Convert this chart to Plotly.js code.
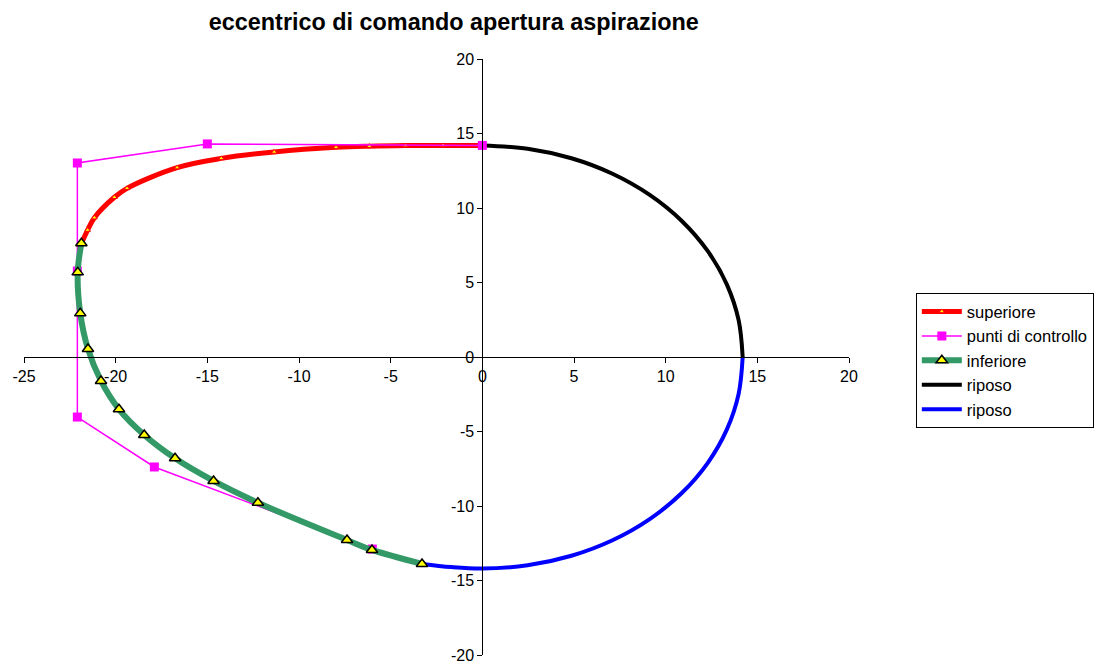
<!DOCTYPE html>
<html>
<head>
<meta charset="utf-8">
<script src="https://cdn.plot.ly/plotly-3.0.1.min.js"></script>
<style>html,body{margin:0;padding:0;background:#fff;}#chart{width:1097px;height:664px;}</style>
</head>
<body>
<div id="chart"></div>
<script>
// superiore (upper flank)
const supX = [0, -2.14, -4.2, -6.16, -7.98, -11.35, -14.24, -16.65, -19.38, -20.07, -21.16, -21.53, -21.87];
const supY = [14.2, 14.2, 14.19, 14.15, 14.07, 13.76, 13.33, 12.71, 11.32, 10.72, 9.35, 8.52, 7.63];
// punti di controllo (control points)
const ctrlX = [0, -15.0, -22.09, -22.09, -22.09, -17.89, -6.0];
const ctrlY = [14.2, 14.3, 13.02, 5.77, -4.03, -7.38, -12.89];
// inferiore (lower flank)
const infX = [-21.87, -22.07, -21.93, -21.51, -20.8, -19.82, -18.44, -16.76, -14.66, -12.24, -7.38, -6.02, -3.29];
const infY = [7.63, 5.68, 2.93, 0.54, -1.61, -3.51, -5.23, -6.8, -8.32, -9.78, -12.28, -12.95, -13.89];
// riposo (base circle, upper-right quarter)
const rip1X = [0, 2.47, 4.86, 7.1, 9.13, 10.88, 12.3, 13.34, 13.98, 14.2];
const rip1Y = [14.2, 13.98, 13.34, 12.3, 10.88, 9.13, 7.1, 4.86, 2.47, 0];
// riposo (base circle, lower part)
const rip2X = [14.2, 13.98, 13.34, 12.3, 10.88, 9.13, 7.1, 4.86, 2.47, 0, -1.7, -3.29];
const rip2Y = [0, -2.47, -4.86, -7.1, -9.13, -10.88, -12.3, -13.34, -13.98, -14.2, -14.1, -13.89];

const xTicks = [-25, -20, -15, -10, -5, 0, 5, 10, 15, 20];
const yTicks = [-20, -15, -10, -5, 0, 5, 10, 15, 20];

const traces = [
  {x: rip1X, y: rip1Y, name: 'riposo', mode: 'lines', line: {color: '#000000', width: 4, shape: 'spline'}, legendrank: 4, legendgroup: 'd'},
  {x: rip2X, y: rip2Y, name: 'riposo', mode: 'lines', line: {color: '#0000ff', width: 4, shape: 'spline'}, legendrank: 5, legendgroup: 'e'},
  {x: supX, y: supY, name: 'superiore', mode: 'lines+markers', line: {color: '#ff0000', width: 5, shape: 'spline'},
   marker: {symbol: 'triangle-up', size: 5, color: '#ffff00', line: {color: '#ff0000', width: 1}}, legendrank: 1, legendgroup: 'a'},
  {x: ctrlX, y: ctrlY, name: 'punti di controllo', mode: 'lines+markers', line: {color: '#ff00ff', width: 1.5},
   marker: {symbol: 'square', size: 9, color: '#ff00ff'}, legendrank: 2, legendgroup: 'b'},
  {x: infX, y: infY, name: 'inferiore', mode: 'lines+markers', line: {color: '#339966', width: 6, shape: 'spline'},
   marker: {symbol: 'triangle-up', size: 10, color: '#ffff00', line: {color: '#000000', width: 1.5}}, legendrank: 3, legendgroup: 'c'}
];

const fam = 'Liberation Sans, Arial, sans-serif';
const axisFont = {family: fam, size: 16, color: '#000'};
const layout = {
  width: 1097, height: 664,
  paper_bgcolor: '#fff', plot_bgcolor: '#fff',
  margin: {l: 24, r: 248, t: 59, b: 9, pad: 0, autoexpand: false},
  title: {text: '<b>eccentrico di comando apertura aspirazione</b>', x: 0.521, xref: 'paper', xanchor: 'center', y: 0.967, yanchor: 'middle',
          font: {family: fam, size: 23.4, color: '#000'}},
  showlegend: true,
  legend: {x: 1.081, y: 0.607, xanchor: 'left', yanchor: 'top', bgcolor: '#fff', bordercolor: '#000', borderwidth: 1,
           font: {family: fam, size: 16.5, color: '#000'}, traceorder: 'grouped', tracegroupgap: 0, itemwidth: 40},
  xaxis: {range: [-25, 20], tickvals: xTicks, ticktext: xTicks.map(String), showgrid: false, zeroline: false,
          showline: true, linecolor: '#000', linewidth: 1, ticks: 'outside', ticklen: 5, tickcolor: '#000',
          anchor: 'free', position: 0.5, tickfont: axisFont, domain: [0, 1], fixedrange: true},
  yaxis: {range: [-20, 20], tickvals: yTicks, ticktext: yTicks.map(String), showgrid: false, zeroline: false,
          showline: true, linecolor: '#000', linewidth: 1, ticks: 'outside', ticklen: 5, tickcolor: '#000',
          anchor: 'free', position: 25/45, tickfont: axisFont, domain: [0, 1], fixedrange: true}
};
Plotly.newPlot('chart', traces, layout, {displayModeBar: false, staticPlot: true});
</script>
</body>
</html>
